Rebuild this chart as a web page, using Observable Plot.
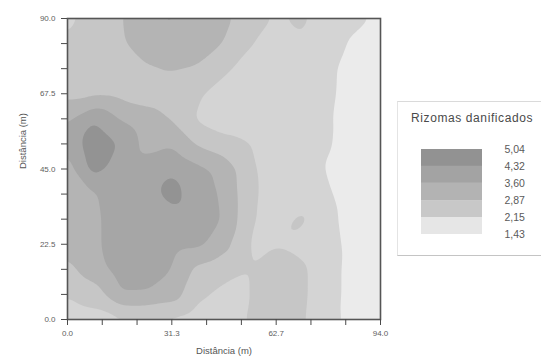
<!DOCTYPE html>
<html>
<head>
<meta charset="utf-8">
<script src="https://cdn.jsdelivr.net/npm/d3@7"></script>
<script src="https://cdn.jsdelivr.net/npm/@observablehq/plot@0.6"></script>
<style>
  body { margin: 0; background: #fff; }
  #chart { position: relative; width: 541px; height: 360px; font-family: "Liberation Sans", Arial, sans-serif; }
  #legend {
    position: absolute; left: 397px; top: 101px; width: 143px; height: 153px;
    border-top: 1px solid #dadada; border-left: 1px solid #e4e4e4; border-bottom: 1px solid #c4c4c4;
    background: #fff;
  }
  #legend .title {
    position: absolute; left: 13px; top: 9px; font-size: 12px; letter-spacing: 0.6px;
    color: #4a4a4a; white-space: nowrap;
  }
  #legend svg { position: absolute; left: 0; top: 0; }
</style>
</head>
<body>
<div id="chart">
  <div id="legend"><div class="title">Rizomas danificados</div></div>
</div>
<script>
// Sampling positions of the survey grid (m)
const xs = [0, 7.83, 15.67, 23.5, 31.33, 39.17, 47.0, 54.83, 62.67, 70.5, 78.33, 86.17, 94.0];
const ys = [90, 82.5, 75, 67.5, 60, 52.5, 45, 37.5, 30, 22.5, 15, 7.5, 0];

// Damaged rhizomes at each grid node, one row per y (top to bottom)
const r90   = [2.6, 3.3, 3.5, 4.2, 4.4, 4.0, 3.8, 3.2, 2.8, 3.0, 2.5, 2.3, 2.05];
const r82   = [3.0, 3.3, 3.45, 4.0, 4.1, 3.9, 3.6, 2.9, 2.6, 2.8, 2.4, 2.05, 1.8];
const r75   = [3.1, 3.3, 3.35, 3.5, 3.65, 3.55, 3.0, 2.6, 2.5, 2.45, 2.3, 1.85, 1.7];
const r67   = [3.4, 3.45, 3.4, 3.3, 3.2, 2.95, 2.6, 2.5, 2.45, 2.4, 2.28, 1.85, 1.7];
const r60   = [4.2, 5.0, 4.3, 3.9, 3.55, 2.75, 2.5, 2.45, 2.4, 2.35, 2.22, 1.85, 1.7];
const r52   = [4.4, 5.6, 5.0, 4.1, 4.25, 3.5, 3.1, 2.9, 2.5, 2.4, 2.2, 1.9, 1.7];
const r45   = [4.0, 5.35, 4.7, 4.6, 4.95, 4.5, 4.15, 3.0, 2.5, 2.45, 2.1, 1.85, 1.7];
const r37   = [3.9, 4.25, 4.7, 4.7, 5.35, 4.55, 4.25, 3.0, 2.6, 2.5, 2.2, 1.9, 1.7];
const r30   = [3.9, 4.2, 4.6, 4.65, 4.7, 4.6, 4.3, 2.95, 2.6, 3.03, 2.3, 1.9, 1.7];
const r22   = [3.8, 4.2, 4.6, 4.6, 4.55, 4.5, 3.85, 2.8, 2.8, 2.62, 2.35, 1.95, 1.7];
const r15   = [3.4, 4.0, 4.6, 4.55, 4.35, 3.4, 3.1, 2.85, 3.35, 3.0, 2.4, 1.9, 1.7];
const r7    = [2.9, 3.2, 4.3, 4.3, 4.0, 3.0, 2.7, 2.85, 3.35, 3.0, 2.4, 1.9, 1.7];
const r0    = [2.5, 2.6, 2.7, 2.75, 2.7, 2.5, 2.45, 2.95, 3.3, 2.95, 2.35, 1.95, 1.7];
const grid = [r90, r82, r75, r67, r60, r52, r45, r37, r30, r22, r15, r7, r0];

// Contour levels and their legend labels
const levels = [1.43, 2.15, 2.87, 3.60, 4.32, 5.04];
const levelLabels = ["1,43", "2,15", "2,87", "3,60", "4,32", "5,04"];
const mapColors = ["#ebebeb", "#d4d4d4", "#c6c6c6", "#b4b4b4", "#a6a6a6", "#939393"];
const legendColors = ["#e6e6e6", "#c8c8c8", "#b3b3b3", "#a3a3a3", "#929292"];

// Axis ticks
const xMajor = [0, 31.33, 62.67, 94];
const xMajorLabels = ["0.0", "31.3", "62.7", "94.0"];
const xMinor = [10.44, 20.89, 41.78, 52.22, 73.11, 83.56];
const yMajor = [0, 22.5, 45, 67.5, 90];
const yMinor = [7.5, 15, 30, 37.5, 52.5, 60, 75, 82.5];

const points = ys.flatMap((y, j) => xs.map((x, i) => ({x, y, v: grid[j][i]})));

const axisStyle = {stroke: "#4a4a4a", fill: "#5e5e5e", fontSize: 8};

const chart = Plot.plot({
  width: 541,
  height: 360,
  marginLeft: 67,
  marginRight: 161,
  marginTop: 18,
  marginBottom: 41,
  style: {fontFamily: "Liberation Sans, Arial, sans-serif", background: "transparent"},
  x: {domain: [0, 94]},
  y: {domain: [0, 90]},
  color: {type: "threshold", domain: levels.slice(1), range: mapColors},
  marks: [
    Plot.contour(points, {
      x: "x", y: "y", fill: "v",
      interpolate: "barycentric",
      thresholds: levels,
      blur: 2,
      stroke: "none"
    }),
    Plot.frame({stroke: "#555", strokeWidth: 1.6}),
    Plot.axisX({ticks: xMinor, tickSize: 6, tickFormat: () => "", label: null, ...axisStyle}),
    Plot.axisX({ticks: xMajor, tickSize: 6, tickPadding: 5,
      tickFormat: d => xMajorLabels[xMajor.indexOf(d)], label: null, ...axisStyle}),
    Plot.axisY({ticks: yMinor, tickSize: 6, tickFormat: () => "", label: null, ...axisStyle}),
    Plot.axisY({ticks: yMajor, tickSize: 6, tickPadding: 6,
      tickFormat: d3.format(".1f"), label: null, ...axisStyle}),
    Plot.text(["Distância (m)"], {frameAnchor: "bottom", dy: 34, fontSize: 9.5, fill: "#555"}),
    Plot.text(["Distância (m)"], {frameAnchor: "left", dx: -45, rotate: -90, fontSize: 9.5, fill: "#555"})
  ]
});
document.getElementById("chart").prepend(chart);

// Vertical colour key
const bands = levels.slice(0, -1).map((lo, i) => ({lo, hi: levels[i + 1]}));
const key = Plot.plot({
  width: 143,
  height: 153,
  marginLeft: 23,
  marginRight: 59,
  marginTop: 47,
  marginBottom: 21,
  style: {fontFamily: "Liberation Sans, Arial, sans-serif", background: "transparent"},
  x: {domain: [0, 1], axis: null},
  y: {domain: [levels[0], levels[levels.length - 1]], axis: null},
  color: {type: "threshold", domain: levels.slice(1, -1), range: legendColors},
  marks: [
    Plot.rectY(bands, {x1: 0, x2: 1, y1: "lo", y2: "hi", fill: "lo"}),
    Plot.axisY({anchor: "right", ticks: levels, tickSize: 0, tickPadding: 22,
      tickFormat: d => levelLabels[levels.indexOf(d)], textAnchor: "start",
      fontSize: 10.5, fill: "#5a5a5a", label: null})
  ]
});
document.getElementById("legend").appendChild(key);
</script>
</body>
</html>
